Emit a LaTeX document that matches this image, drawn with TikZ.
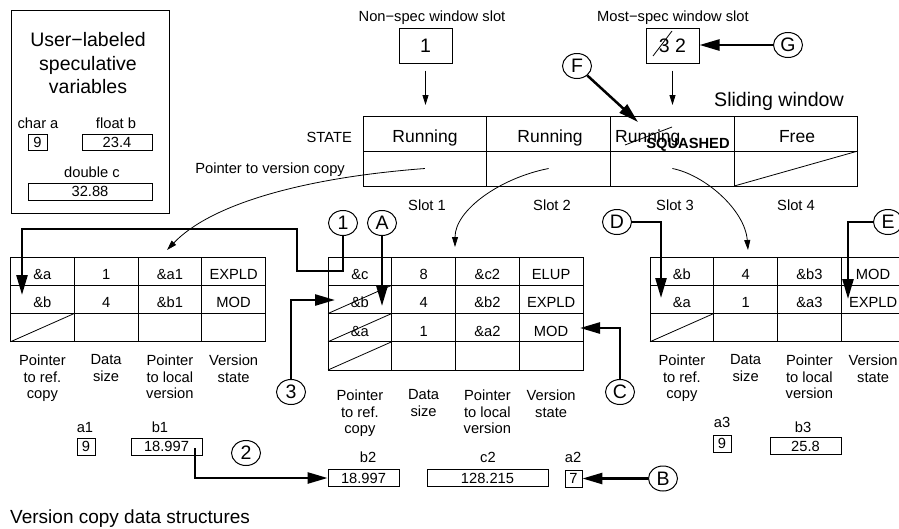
\documentclass[tikz,border=0pt]{standalone}
\usepackage{fontspec}
\setmainfont{Liberation Sans}
\usetikzlibrary{arrows.meta,shapes.geometric,calc}
\newcommand\dgN{\fontsize{14.7}{16.7}\selectfont}
\newcommand\dgR{\fontsize{17.5}{21}\selectfont}
\newcommand\dgL{\fontsize{19.5}{23.7}\selectfont}
\newcommand\dgB{\bfseries\fontsize{14.7}{17}\selectfont}
\newcommand\tabrow[7]{%
  \node[cell] (#1-1) at (#2+31.875,#3) {#4};
  \node[cell] (#1-2) at (#2+95.625,#3) {#5};
  \node[cell] (#1-3) at (#2+159.375,#3) {#6};
  \node[cell] (#1-4) at (#2+223.125,#3) {#7};}
\newcommand\colheads[2]{%
  \node[colhead] (#1h1) at (#2+31.875,0) {};}
\begin{document}
\begin{tikzpicture}[x=1pt,y=-1pt,
  cell/.style={draw, line width=1pt, minimum width=63.75pt, minimum height=28.25pt, inner sep=0pt, outer sep=0pt, text height=17pt, text depth=0pt, font=\dgN},
  wcell/.style={draw, line width=1pt, minimum width=123.75pt, minimum height=35pt, inner sep=0pt, outer sep=0pt},
  txt/.style={font=\dgN, inner sep=0pt, anchor=base},
  colhead/.style={font=\dgN, align=center, inner sep=0pt, anchor=north},
  valbox/.style={draw, line width=0.8pt, inner sep=0pt, minimum height=17pt, text height=10.5pt, text depth=0pt, font=\dgN},
  tag/.style={draw, line width=1pt, ellipse, minimum width=29pt, minimum height=25pt, inner sep=0pt, font=\dgL},
  thickarr/.style={line width=2.5pt, -{Triangle[length=20pt,width=11pt]}},
  thinarr/.style={line width=0.8pt, -{Triangle[length=10pt,width=6pt]}},
  thinline/.style={line width=0.8pt}]
\fill[white] (0,0) rectangle (899,528);
\useasboundingbox (0,0) rectangle (899,528);
\clip (0,0) rectangle (899,528);

% ---------- user-labeled variables box
\node[draw, line width=1pt, minimum width=158pt, minimum height=203pt, inner sep=0pt] (ubox) at (90,111.5) {};
\node[font=\dgL, align=center, inner sep=0pt, anchor=north] (utitle) at (88,32) {User−labeled\\speculative\\variables};
\node[txt] (lchara) at (38,128) {char a};
\node[txt] (lfloatb) at (116,128) {float b};
\node[valbox, minimum width=19pt, minimum height=16pt] (ua) at (37.5,142) {9};
\node[valbox, minimum width=70pt, minimum height=16pt] (ub) at (117,142) {23.4};
\node[txt] (ldoublec) at (92,177) {double c};
\node[valbox, minimum width=124pt] (uc) at (90,191.5) {32.88};

% ---------- window slot pointers
\node[txt] (lnonspec) at (432,21) {Non−spec window slot};
\node[draw, line width=1pt, minimum width=53pt, minimum height=35pt, inner sep=0pt, font=\dgL] (nsbox) at (425.5,45.5) {1};
\node[txt] (lmostspec) at (673,21) {Most−spec window slot};
\node[draw, line width=1pt, minimum width=53pt, minimum height=35pt, inner sep=0pt, font=\dgL] (msbox) at (672.5,45.5) {3 2};
\draw[thinline] (653,56) -- (672,31);

% ---------- sliding window
\node[wcell] (w11) at (424.9,133.5) {};
\node[wcell] (w12) at (548.6,133.5) {};
\node[wcell] (w13) at (672.4,133.5) {};
\node[wcell] (w14) at (796.1,133.5) {};
\node[wcell] (w21) at (424.9,168.5) {};
\node[wcell] (w22) at (548.6,168.5) {};
\node[wcell] (w23) at (672.4,168.5) {};
\node[wcell] (w24) at (796.1,168.5) {};
\draw[thinline] (w24.south west) -- (w24.north east);
\node[font=\dgR, inner sep=0pt, anchor=base] (run1) at (425,142) {Running};
\node[font=\dgR, inner sep=0pt, anchor=base] (run2) at (550,142) {Running};
\node[font=\dgR, inner sep=0pt, anchor=base west] (run3) at (615,142) {Running};
\node[font=\dgR, inner sep=0pt, anchor=base] (free4) at (797,142) {Free};
\draw[thinline] (625,145) -- (672,127);
\node[font=\dgB, inner sep=0pt, anchor=base] (squashed) at (688,148) {SQUASHED};
\node[txt, anchor=base east] (lstate) at (352,142) {STATE};
\node[txt, anchor=base east] (lptrver) at (345,173) {Pointer to version copy};
\node[font=\fontsize{19.6}{23}\selectfont, inner sep=0pt, anchor=base] (lsliding) at (779,106) {Sliding window};
\node[txt] (ls1) at (427,210) {Slot 1};
\node[txt] (ls2) at (552,210) {Slot 2};
\node[txt] (ls3) at (675,210) {Slot 3};
\node[txt] (ls4) at (796,210) {Slot 4};

\draw[thinarr, shorten <=7pt, shorten >=11pt] (nsbox.south) -- (nsbox.south |- w11.north);
\draw[thinarr, shorten <=7pt, shorten >=11pt] (msbox.south) -- (msbox.south |- w13.north);

% ---------- version copy tables
\tabrow{t1r1}{10.5}{271.125}{\&a}{1}{\&a1}{EXPLD}
\tabrow{t1r2}{10.5}{299.375}{\&b}{4}{\&b1}{MOD}
\tabrow{t1r3}{10.5}{327.625}{}{}{}{}
\draw[thinline] (t1r3-1.south west) -- (t1r3-1.north east);

\tabrow{t2r1}{328}{271.125}{\&c}{8}{\&c2}{ELUP}
\tabrow{t2r2}{328}{299.375}{\&b}{4}{\&b2}{EXPLD}
\tabrow{t2r3}{328}{327.625}{\&a}{1}{\&a2}{MOD}
\tabrow{t2r4}{328}{355.875}{}{}{}{}
\draw[thinline] (t2r2-1.south west) -- (t2r2-1.north east);
\draw[thinline] (t2r3-1.south west) -- (t2r3-1.north east);
\draw[thinline] (t2r4-1.south west) -- (t2r4-1.north east);

\tabrow{t3r1}{650}{271.125}{\&b}{4}{\&b3}{MOD}
\tabrow{t3r2}{650}{299.375}{\&a}{1}{\&a3}{EXPLD}
\tabrow{t3r3}{650}{327.625}{}{}{}{}
\draw[thinline] (t3r3-1.south west) -- (t3r3-1.north east);

% column headings
\node[colhead] (h11) at (42.4,354.5) {Pointer\\to ref.\\copy};
\node[colhead] (h12) at (106.1,354.5) {Data\\size};
\node[colhead] (h13) at (169.9,354.5) {Pointer\\to local\\version};
\node[colhead] (h14) at (233.6,354.5) {Version\\state};
\node[colhead] (h21) at (359.9,389.5) {Pointer\\to ref.\\copy};
\node[colhead] (h22) at (423.6,389.5) {Data\\size};
\node[colhead] (h23) at (487.4,389.5) {Pointer\\to local\\version};
\node[colhead] (h24) at (551.1,389.5) {Version\\state};
\node[colhead] (h31) at (681.9,354.5) {Pointer\\to ref.\\copy};
\node[colhead] (h32) at (745.6,354.5) {Data\\size};
\node[colhead] (h33) at (809.4,354.5) {Pointer\\to local\\version};
\node[colhead] (h34) at (873.1,354.5) {Version\\state};

% window -> tables curves
\coordinate (e1) at (167,250);
\coordinate (e2) at (455,247);
\coordinate (e3) at (748,250);
\draw[thinarr] (w21.center) .. controls (300,178) and (210,205) .. (e1);
\draw[thinarr] (w22.center) .. controls (500,178) and (455,210) .. (e2);
\draw[thinarr] (w23.center) .. controls (705,175) and (745,210) .. (e3);

% ---------- local version values
\node[txt] (la1) at (85,432) {a1};
\node[valbox, minimum width=18pt] (a1box) at (86,446.5) {9};
\node[txt] (lb1) at (160,432) {b1};
\node[valbox, minimum width=71pt] (b1box) at (166.5,446.5) {18.997};
\node[txt] (lb2) at (368,462) {b2};
\node[valbox, minimum width=71pt] (b2box) at (363.5,478) {18.997};
\node[txt] (lc2) at (488,462) {c2};
\node[valbox, minimum width=121pt] (c2box) at (487.5,478) {128.215};
\node[txt] (la2) at (573,462) {a2};
\node[valbox, minimum width=17pt] (a2box) at (573.5,478.5) {7};
\node[txt] (la3) at (722,427) {a3};
\node[valbox, minimum width=18pt] (a3box) at (722,443.5) {9};
\node[txt] (lb3) at (803,432) {b3};
\node[valbox, minimum width=71pt] (b3box) at (805.5,446) {25.8};
\node[font=\fontsize{19}{23}\selectfont, inner sep=0pt, anchor=base west] (lvcds) at (10,523) {Version copy data structures};

% ---------- tags
\node[tag] (c1) at (343,223) {1};
\node[tag] (cA) at (382,223) {A};
\node[tag] (c3) at (291,392) {3};
\node[tag] (cC) at (620,392) {C};
\node[tag] (cD) at (617,222) {D};
\node[tag] (cE) at (888,222) {E};
\node[tag] (cF) at (577,66) {F};
\node[tag] (cG) at (788,45) {G};
\node[tag] (c2) at (246,453) {2};
\node[tag] (cB) at (663,478.5) {B};

\coordinate (j1a) at (297,271);
\coordinate (j1b) at (22,229);
\coordinate (tip1) at (22,295);
\coordinate (tipA) at (382,306);
\coordinate (tip3) at (335,300);
\coordinate (tipC) at (580,328);
\coordinate (tipD) at (661,298);
\coordinate (tipE) at (848,299);
\coordinate (tipF) at (638,122);
\coordinate (b1p) at (195,448);

\draw[thickarr] (c1) |- (j1a) |- (j1b) -- (tip1);
\draw[thickarr] (cA) -- (tipA);
\draw[thickarr] (c3) |- (tip3);
\draw[thickarr] (cC) |- (tipC);
\draw[thickarr] (cD) -| (tipD);
\draw[thickarr] (cE) -| (tipE);
\draw[thickarr] (cF) -- (tipF);
\draw[thickarr] (cG) -- (msbox.east |- cG);
\draw[thickarr] (cB) -- (a2box.east);
\draw[thickarr] (b1p) |- (b2box.west);
\end{tikzpicture}
\end{document}
